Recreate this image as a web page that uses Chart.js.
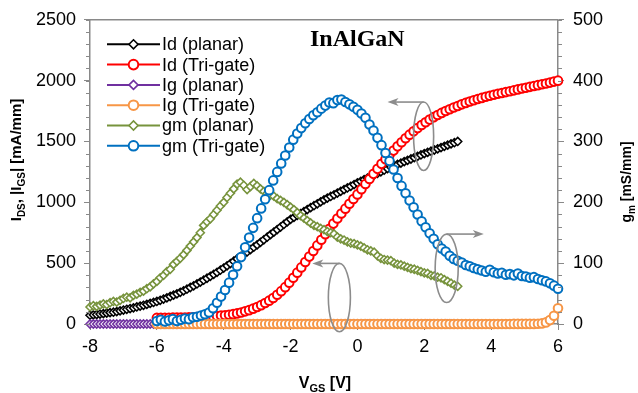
<!DOCTYPE html>
<html>
<head>
<meta charset="utf-8">
<script src="https://cdn.jsdelivr.net/npm/chart.js@4.4.0/dist/chart.umd.min.js"></script>
<style>
html, body { margin: 0; padding: 0; background: #fff; }
</style>
</head>
<body>
<canvas id="myChart" width="638" height="393"></canvas>
<script>
// gate voltage sweeps [V]
var vgsPlanar = [
  -8.0, -7.9, -7.8, -7.7, -7.6, -7.5, -7.4, -7.3, -7.2, -7.1,
  -7.0, -6.9, -6.8, -6.7, -6.6, -6.5, -6.4, -6.3, -6.2, -6.1,
  -6.0, -5.9, -5.8, -5.7, -5.6, -5.5, -5.4, -5.3, -5.2, -5.1,
  -5.0, -4.9, -4.8, -4.7, -4.6, -4.5, -4.4, -4.3, -4.2, -4.1,
  -4.0, -3.9, -3.8, -3.7, -3.6, -3.5, -3.4, -3.3, -3.2, -3.1,
  -3.0, -2.9, -2.8, -2.7, -2.6, -2.5, -2.4, -2.3, -2.2, -2.1,
  -2.0, -1.9, -1.8, -1.7, -1.6, -1.5, -1.4, -1.3, -1.2, -1.1,
  -1.0, -0.9, -0.8, -0.7, -0.6, -0.5, -0.4, -0.3, -0.2, -0.1,
  0.0, 0.1, 0.2, 0.3, 0.4, 0.5, 0.6, 0.7, 0.8, 0.9,
  1.0, 1.1, 1.2, 1.3, 1.4, 1.5, 1.6, 1.7, 1.8, 1.9,
  2.0, 2.1, 2.2, 2.3, 2.4, 2.5, 2.6, 2.7, 2.8, 2.9,
  3.0
];
var vgsTrigate = [
  -6, -5.88, -5.76, -5.64, -5.52, -5.4, -5.28, -5.16, -5.04, -4.92,
  -4.8, -4.68, -4.56, -4.44, -4.32, -4.2, -4.08, -3.96, -3.84, -3.72,
  -3.6, -3.48, -3.36, -3.24, -3.12, -3, -2.88, -2.76, -2.64, -2.52,
  -2.4, -2.28, -2.16, -2.04, -1.92, -1.8, -1.68, -1.56, -1.44, -1.32,
  -1.2, -1.08, -0.96, -0.84, -0.72, -0.6, -0.48, -0.36, -0.24, -0.12,
  0, 0.12, 0.24, 0.36, 0.48, 0.6, 0.72, 0.84, 0.96, 1.08,
  1.2, 1.32, 1.44, 1.56, 1.68, 1.8, 1.92, 2.04, 2.16, 2.28,
  2.4, 2.52, 2.64, 2.76, 2.88, 3, 3.12, 3.24, 3.36, 3.48,
  3.6, 3.72, 3.84, 3.96, 4.08, 4.2, 4.32, 4.44, 4.56, 4.68,
  4.8, 4.92, 5.04, 5.16, 5.28, 5.4, 5.52, 5.64, 5.76, 5.88,
  6
];

// drain current [mA/mm]
var idPlanar = [
  72, 75, 78, 82, 85, 89, 93, 97, 102, 108,
  115, 121, 127, 133, 140, 147, 154, 161, 169, 177,
  185, 195, 205, 215, 226, 237, 248, 260, 273, 286,
  300, 314, 329, 344, 360, 376, 392, 408, 425, 442,
  460, 478, 497, 516, 535, 554, 573, 592, 611, 631,
  650, 671, 692, 713, 734, 755, 776, 797, 818, 839,
  860, 876, 892, 908, 924, 940, 956, 972, 988, 1004,
  1020, 1034, 1048, 1062, 1076, 1090, 1104, 1118, 1132, 1146,
  1160, 1173, 1186, 1199, 1212, 1225, 1238, 1251, 1264, 1277,
  1290, 1301, 1312, 1323, 1334, 1345, 1356, 1367, 1378, 1389,
  1400, 1410, 1420, 1430, 1440, 1450, 1460, 1470, 1480, 1490,
  1500
];
var idTrigate = [
  50, 50, 51, 51, 52, 52, 53, 54, 55, 56,
  57, 58, 60, 62, 64, 66, 69, 72, 76, 81,
  87, 95, 104, 114, 126, 140, 155, 172, 192, 214,
  240, 270, 303, 340, 380, 422, 465, 509, 554, 600,
  646, 692, 737, 782, 825, 867, 908, 948, 988, 1027,
  1065, 1108, 1150, 1192, 1234, 1275, 1316, 1354, 1390, 1425,
  1460, 1494, 1526, 1556, 1584, 1610, 1635, 1658, 1680, 1700,
  1718, 1735, 1750, 1765, 1779, 1792, 1805, 1817, 1828, 1839,
  1849, 1858, 1867, 1876, 1884, 1892, 1899, 1906, 1913, 1920,
  1928, 1935, 1942, 1949, 1956, 1963, 1970, 1977, 1984, 1992,
  2000
];

// gate leakage |Ig| [mA/mm]
var igPlanar = [
  0, 0, 0, 0, 0, 0, 0, 0, 0, 0,
  0, 0, 0, 0, 0, 0, 0, 0, 0, 0,
  0, 0, 0, 0, 0, 0, 0, 0, 0, 0,
  0, 0, 0, 0, 0, 0, 0, 0, 0, 0,
  0, 0, 0, 0, 0, 0, 0, 0, 0, 0,
  0, 0, 0, 0, 0, 0, 0, 0, 0, 0,
  0, 0, 0, 0, 0, 0, 0, 0, 0, 0,
  0, 0, 0, 0, 0, 0, 0, 0, 0, 0,
  0, 0, 0, 0, 0, 0, 0, 0, 0, 0,
  0, 0, 0, 0, 0, 0, 0, 0, 0, 0,
  0, 0, 0, 0, 0, 0, 0, 0, 0, 0,
  0
];
var igTrigate = [
  0, 0, 0, 0, 0, 0, 0, 0, 0, 0,
  0, 0, 0, 0, 0, 0, 0, 0, 0, 0,
  0, 0, 0, 0, 0, 0, 0, 0, 0, 0,
  0, 0, 0, 0, 0, 0, 0, 0, 0, 0,
  0, 0, 0, 0, 0, 0, 0, 0, 0, 0,
  0, 0, 0, 0, 0, 0, 0, 0, 0, 0,
  0, 0, 0, 0, 0, 0, 0, 0, 0, 0,
  0, 0, 0, 0, 0, 0, 0, 0, 0, 0,
  0, 0, 0, 0, 0, 0, 0, 0, 0, 1,
  1, 1, 1, 1, 1, 2, 5, 13, 32, 68,
  130
];

// transconductance [mS/mm]
var gmPlanar = [
  28, 30, 29, 31, 33, 32, 35, 37, 36, 39,
  42, 44, 43, 47, 49, 52, 54, 58, 61, 66,
  70, 76, 80, 86, 90, 98, 103, 108, 114, 121,
  128, 135, 142, 150, 162, 168, 173, 180, 187, 194,
  200, 208, 215, 222, 230, 233, 228, 221, 226, 231,
  227, 222, 218, 215, 212, 210, 206, 203, 200, 196,
  192, 188, 183, 178, 174, 170, 166, 162, 160, 157,
  155, 152, 150, 148, 143, 140, 138, 135, 133, 132,
  130, 128, 125, 122, 120, 118, 112, 108, 106, 105,
  104, 100, 98, 97, 95, 93, 91, 90, 88, 86,
  84, 83, 80, 79, 77, 76, 73, 70, 67, 64,
  62
];
var gmTrigate = [
  5, 7, 4, 6, 8, 5, 7, 9, 8, 11,
  12, 14, 16, 19, 26, 35, 45, 56, 68, 81,
  95, 110, 126, 142, 158, 174, 190, 205, 220, 236,
  250, 264, 277, 290, 303, 313, 322, 330, 337, 343,
  348, 354, 359, 364, 363, 368, 369, 365, 361, 357,
  352, 346, 339, 328, 318, 306, 294, 281, 268, 254,
  240, 227, 215, 203, 192, 180, 169, 159, 149, 140,
  131, 124, 119, 112, 107, 104, 101, 97, 95, 92,
  90, 88, 86, 89, 85, 83, 84, 81, 82, 80,
  83, 79, 78, 76, 77, 74, 72, 70, 67, 63,
  58
];

var seriesNames = ["Id (planar)", "Id (Tri-gate)", "Ig (planar)", "Ig (Tri-gate)", "gm (planar)", "gm (Tri-gate)"];
var xTicks = [-8, -6, -4, -2, 0, 2, 4, 6];
var leftTicks = [0, 500, 1000, 1500, 2000, 2500];
var rightTicks = [0, 100, 200, 300, 400, 500];

// callouts: ellipse centre (V, mA/mm), half sizes, arrow end V
var callouts = [
  { v: 1.98, i: 1543, dv: 0.3, di: 281, toV: 0.9 },
  { v: 2.67, i: 458, dv: 0.345, di: 281, toV: 3.78 },
  { v: -0.54, i: 217, dv: 0.33, di: 281, toV: -1.35 }
];

var FONT = '"Liberation Sans", Arial, sans-serif';
var AXIS_GREY = '#898989';

function pts(xs, ys) {
  return xs.map(function (v, k) { return { x: v, y: ys[k] }; });
}

function series(k, xs, ys, color, style, axis) {
  var circle = style === 'circle';
  return {
    label: seriesNames[k],
    data: pts(xs, ys),
    yAxisID: axis,
    order: 5 - k,
    clip: false,
    showLine: true,
    borderColor: color,
    borderWidth: 2,
    backgroundColor: '#fff',
    pointStyle: style,
    pointRadius: circle ? 4.3 : 4,
    pointBorderWidth: circle ? 2 : 1.6,
    pointBackgroundColor: '#fff',
    pointBorderColor: color
  };
}

var datasets = [
  series(0, vgsPlanar, idPlanar, '#000000', 'rectRot', 'y'),
  series(1, vgsTrigate, idTrigate, '#ff0000', 'circle', 'y'),
  series(2, vgsPlanar, igPlanar, '#7030a0', 'rectRot', 'y'),
  series(3, vgsTrigate, igTrigate, '#f79646', 'circle', 'y'),
  series(4, vgsPlanar, gmPlanar, '#77933c', 'rectRot', 'y2'),
  series(5, vgsTrigate, gmTrigate, '#0070c0', 'circle', 'y2')
];

// text with subscripts: parts = [[text, isSub], ...]
function drawRich(ctx, parts, x, y, size) {
  var subSize = Math.round(size * 0.68);
  var w = 0;
  parts.forEach(function (p) {
    ctx.font = 'bold ' + (p[1] ? subSize : size) + 'px ' + FONT;
    w += ctx.measureText(p[0]).width;
  });
  var cx = x - w / 2;
  ctx.textAlign = 'left';
  ctx.textBaseline = 'alphabetic';
  parts.forEach(function (p) {
    ctx.font = 'bold ' + (p[1] ? subSize : size) + 'px ' + FONT;
    ctx.fillText(p[0], cx, y + (p[1] ? size * 0.28 : 0));
    cx += ctx.measureText(p[0]).width;
  });
}

function minorTicks(ctx, scale, step, side, len) {
  var x0 = side === 'left' ? scale.right : scale.left;
  var dir = side === 'left' ? -1 : 1;
  ctx.beginPath();
  for (var v = scale.min; v <= scale.max + 1e-9; v += step) {
    var y = Math.round(scale.getPixelForValue(v)) + 0.5;
    ctx.moveTo(x0, y);
    ctx.lineTo(x0 + dir * len, y);
  }
  ctx.stroke();
}

var decor = {
  id: 'decor',
  afterDraw: function (chart) {
    var ctx = chart.ctx, a = chart.chartArea;
    var sx = chart.scales.x, sy = chart.scales.y, sy2 = chart.scales.y2;
    ctx.save();

    // top frame line + minor ticks
    ctx.strokeStyle = AXIS_GREY;
    ctx.lineWidth = 1.5;
    ctx.beginPath();
    ctx.moveTo(a.left, a.top);
    ctx.lineTo(a.right, a.top);
    ctx.stroke();
    ctx.lineWidth = 1;
    minorTicks(ctx, sy, 100, 'left', 4);
    minorTicks(ctx, sy2, 20, 'right', 4);

    // callouts
    ctx.strokeStyle = '#8c8c8c';
    ctx.fillStyle = '#8c8c8c';
    ctx.lineWidth = 1.6;
    callouts.forEach(function (c) {
      var cx = sx.getPixelForValue(c.v), cy = sy.getPixelForValue(c.i);
      var rx = Math.abs(sx.getPixelForValue(c.v + c.dv) - cx);
      var ry = Math.abs(sy.getPixelForValue(c.i + c.di) - cy);
      ctx.beginPath();
      ctx.ellipse(cx, cy, rx, ry, 0, 0, Math.PI * 2);
      ctx.stroke();
      var ty = cy - ry;
      var ex = sx.getPixelForValue(c.toV);
      var d = ex < cx ? -1 : 1;
      ctx.beginPath();
      ctx.moveTo(cx, ty);
      ctx.lineTo(ex - d * 6, ty);
      ctx.stroke();
      ctx.beginPath();
      ctx.moveTo(ex, ty);
      ctx.lineTo(ex - d * 11, ty - 4);
      ctx.lineTo(ex - d * 8, ty);
      ctx.lineTo(ex - d * 11, ty + 4);
      ctx.closePath();
      ctx.fill();
    });

    // legend
    var lx = a.left + 17, ly = a.top + 24.5;
    datasets.forEach(function (ds, k) {
      var y = ly + k * 20.3;
      ctx.strokeStyle = ds.borderColor;
      ctx.lineWidth = 2;
      ctx.beginPath();
      ctx.moveTo(lx, y);
      ctx.lineTo(lx + 53, y);
      ctx.stroke();
      ctx.fillStyle = '#fff';
      ctx.lineWidth = ds.pointBorderWidth;
      Chart.helpers.drawPoint(ctx, {
        pointStyle: ds.pointStyle, radius: ds.pointRadius + 0.5,
        borderWidth: ds.pointBorderWidth, rotation: 0
      }, lx + 26.5, y);
      ctx.fillStyle = '#000';
      ctx.font = '18px ' + FONT;
      ctx.textAlign = 'left';
      ctx.textBaseline = 'middle';
      ctx.fillText(ds.label, lx + 55, y + 1);
    });

    // plot title
    ctx.fillStyle = '#000';
    ctx.font = 'bold 24px "Liberation Serif", "Times New Roman", serif';
    ctx.textAlign = 'left';
    ctx.textBaseline = 'alphabetic';
    ctx.fillText('InAlGaN', a.left + 220, a.top + 26);

    // axis titles
    drawRich(ctx, [['V', false], ['GS', true], [' [V]', false]], 325, 388, 16);
    ctx.save();
    ctx.translate(21, 160);
    ctx.rotate(-Math.PI / 2);
    drawRich(ctx, [['I', false], ['DS', true], [', |I', false], ['GS', true], ['| [mA/mm]', false]], 0, 0, 15);
    ctx.restore();
    ctx.save();
    ctx.translate(631, 182);
    ctx.rotate(-Math.PI / 2);
    drawRich(ctx, [['g', false], ['m', true], [' [mS/mm]', false]], 0, 0, 14);
    ctx.restore();

    ctx.restore();
  }
};

function axisGrid() {
  return { display: true, drawOnChartArea: false, drawTicks: true, tickLength: 6, color: AXIS_GREY, lineWidth: 1 };
}
function fixTicks(list) {
  return function (scale) { scale.ticks = list.map(function (v) { return { value: v }; }); };
}
function plainLabel(v) { return String(v); }
var tickFont = { family: FONT, size: 18 };

var ctx = document.getElementById('myChart').getContext('2d');
var myChart = new Chart(ctx, {
  type: 'scatter',
  data: { datasets: datasets },
  plugins: [decor],
  options: {
    responsive: false,
    animation: false,
    layout: { padding: { top: 13, left: 0, right: 0, bottom: 0 } },
    elements: { line: { tension: 0 } },
    scales: {
      x: {
        type: 'linear', min: -8, max: 6,
        afterBuildTicks: fixTicks(xTicks),
        afterFit: function (s) { s.height = 69; },
        grid: axisGrid(),
        border: { display: true, color: AXIS_GREY, width: 1.5 },
        ticks: { font: tickFont, color: '#000', padding: 6, maxRotation: 0, callback: plainLabel }
      },
      y: {
        type: 'linear', position: 'left', min: 0, max: 2500,
        afterBuildTicks: fixTicks(leftTicks),
        afterFit: function (s) { s.width = 90; },
        grid: axisGrid(),
        border: { display: true, color: AXIS_GREY, width: 1.5 },
        ticks: { font: tickFont, color: '#000', padding: 8, callback: plainLabel }
      },
      y2: {
        type: 'linear', position: 'right', min: 0, max: 500,
        afterBuildTicks: fixTicks(rightTicks),
        afterFit: function (s) { s.width = 80; },
        grid: axisGrid(),
        border: { display: true, color: AXIS_GREY, width: 1.5 },
        ticks: { font: tickFont, color: '#000', padding: 9, callback: plainLabel }
      }
    },
    plugins: {
      legend: { display: false },
      tooltip: { enabled: false }
    }
  }
});
</script>
</body>
</html>
